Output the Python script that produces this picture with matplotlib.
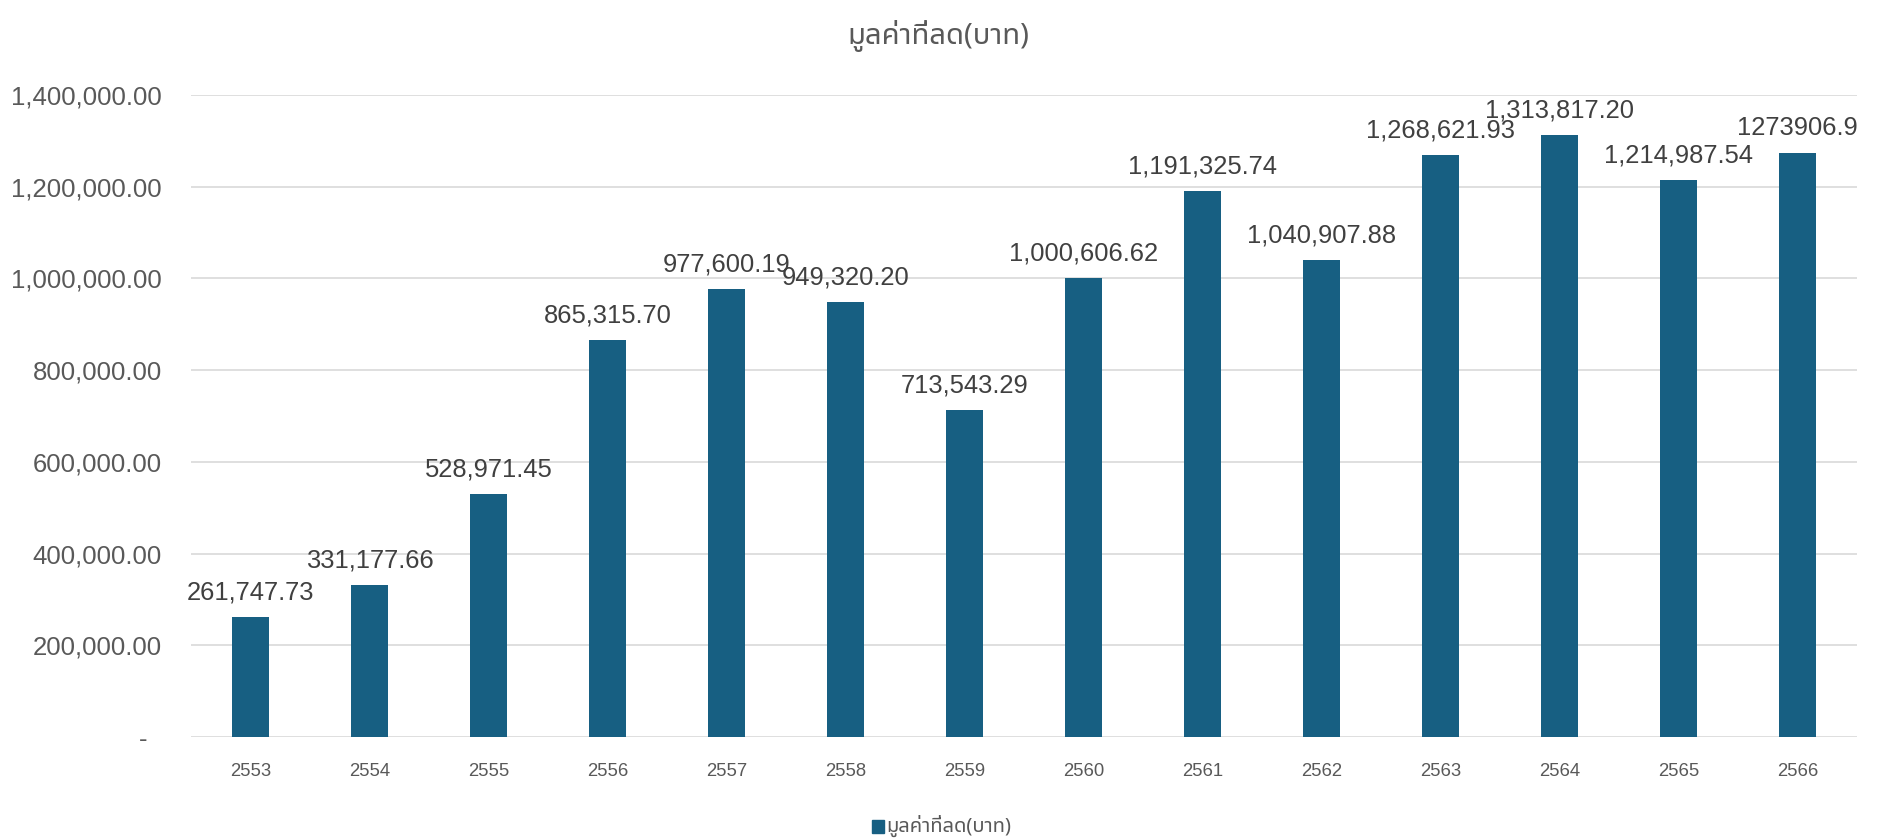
import matplotlib
matplotlib.use("Agg")
import matplotlib.pyplot as plt
from matplotlib import font_manager
from matplotlib.ft2font import FT2Font
from matplotlib.patches import Rectangle
from matplotlib.ticker import FuncFormatter

# ---- data ----
years = ["2553", "2554", "2555", "2556", "2557", "2558", "2559",
         "2560", "2561", "2562", "2563", "2564", "2565", "2566"]
values = [261747.73, 331177.66, 528971.45, 865315.70, 977600.19, 949320.20,
          713543.29, 1000606.62, 1191325.74, 1040907.88, 1268621.93,
          1313817.20, 1214987.54, 1273906.9]
value_labels = ["261,747.73", "331,177.66", "528,971.45", "865,315.70",
                "977,600.19", "949,320.20", "713,543.29", "1,000,606.62",
                "1,191,325.74", "1,040,907.88", "1,268,621.93",
                "1,313,817.20", "1,214,987.54", "1273906.9"]
title = "มูลค่าที่ลด(บาท)"
series_name = "มูลค่าที่ลด(บาท)"
y_ticks = [0, 200000, 400000, 600000, 800000, 1000000, 1200000, 1400000]

# ---- find a font with Thai glyphs ----
thai_font = None
found = []
for fe in font_manager.fontManager.ttflist:
    try:
        cm = FT2Font(fe.fname).get_charmap()
    except Exception:
        continue
    if 0x0E21 in cm and 0x0E39 in cm:
        found.append(fe.name)
pref = ["Noto Sans Thai", "Noto Sans Thai Looped", "Loma", "Garuda", "Tlwg Typo",
        "Sarabun", "Kinnari", "Norasi", "Waree", "Umpush"]
for p in pref:
    if p in found:
        thai_font = p
        break
if thai_font is None and found:
    thai_font = found[0]

base = "Liberation Sans"
thai_family = ([thai_font] if thai_font else []) + [base, "DejaVu Sans"]
plt.rcParams["font.family"] = [base, "DejaVu Sans"]

bar_color = "#175F82"
grid_color = "#D9D9D9"
tick_color = "#595959"
label_color = "#404040"

fig = plt.figure(figsize=(18.81, 8.40), dpi=100)
ax = fig.add_axes([0.1015, 0.1226, 0.8857, 0.7643])

x = list(range(len(years)))
ax.bar(x, values, width=0.311, color=bar_color, zorder=3)

ax.set_xlim(-0.5, len(years) - 0.5)
ax.set_ylim(0, 1400000)
ax.set_yticks(y_ticks)

def yfmt(v, pos):
    if v == 0:
        return "-  "
    return f"{v:,.2f}"

ax.yaxis.set_major_formatter(FuncFormatter(yfmt))
ax.set_xticks(x)
ax.set_xticklabels(years)

ax.grid(axis="y", color=grid_color, linewidth=1.2, zorder=0)
ax.set_axisbelow(True)
for s in ax.spines.values():
    s.set_visible(False)
ax.tick_params(axis="y", length=0, pad=21, labelsize=18.5, labelcolor=tick_color)
ax.tick_params(axis="x", length=0, pad=19, labelsize=13.3, labelcolor=tick_color)

for xi, v, lab in zip(x, values, value_labels):
    ax.annotate(lab, (xi, v), xytext=(0, 9), textcoords="offset points",
                ha="center", va="bottom", fontsize=18.4, color=label_color,
                clip_on=False)

fig.text(0.499, 0.957, title, ha="center", va="center", fontsize=21,
         color=tick_color, family=thai_family)

# legend
fig.patches.append(Rectangle((0.4635, 0.0085), 0.0062, 0.0155,
                             transform=fig.transFigure, color=bar_color))
fig.text(0.4712, 0.0165, series_name, ha="left", va="center", fontsize=14.5,
         color=tick_color, family=thai_family)

fig.savefig("out.png", dpi=100)
